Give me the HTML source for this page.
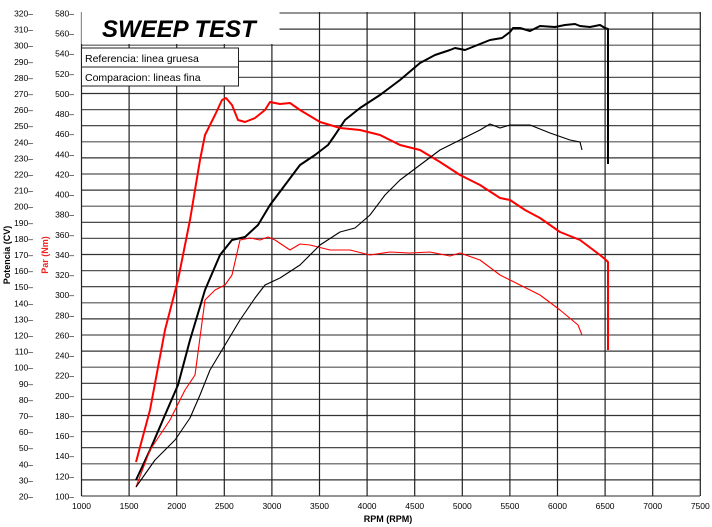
<!DOCTYPE html>
<html><head><meta charset="utf-8"><style>
html,body{margin:0;padding:0;background:#fff;}
svg{display:block;font-family:"Liberation Sans",sans-serif;}
</style></head><body>
<svg width="712" height="527" viewBox="0 0 712 527" xmlns="http://www.w3.org/2000/svg">
<g id="grid" stroke="#222" stroke-width="1.2">
</g>
<script>
(function(){
var g=document.getElementById('grid'),ns='http://www.w3.org/2000/svg',s=document.querySelector('svg');
function el(t,a,p){var e=document.createElementNS(ns,t);for(var k in a)e.setAttribute(k,a[k]);(p||g).appendChild(e);return e;}
// horizontal lines CV 20..320
for(var i=0;i<=30;i++){var y=496-i*16.1;el('line',{x1:81.5,x2:700,y1:y,y2:y,stroke:(i%2?'#333':'#555')});
 var t=el('text',{x:33,y:y+3.5,'font-size':'8.5','text-anchor':'end',fill:'#000',stroke:'none'},s);t.textContent=(20+i*10)+'\u2013';}
for(var j=0;j<=24;j++){var y2=496-j*20.13;var t2=el('text',{x:74,y:y2+3.5,'font-size':'8.5','text-anchor':'end',fill:'#000',stroke:'none'},s);t2.textContent=(100+j*20)+'\u2013';}
for(var k=0;k<=13;k++){var x=81.5+k*47.6;el('line',{x1:x,x2:x,y1:12,y2:496});
 var t3=el('text',{x:x,y:509,'font-size':'8.5','text-anchor':'middle',fill:'#000',stroke:'none'},s);t3.textContent=(1000+k*500);}
})();
</script>
<rect x="81.5" y="12" width="198" height="32" fill="#fff"/>
<text x="102" y="37" font-size="24" font-weight="bold" font-style="italic" fill="#000">SWEEP TEST</text>
<rect x="81.5" y="48" width="157" height="38" fill="#fff" stroke="#222" stroke-width="1"/>
<line x1="81.5" y1="67" x2="238.5" y2="67" stroke="#222"/>
<text x="85" y="62" font-size="10.5">Referencia: linea gruesa</text>
<text x="85" y="81" font-size="10.5">Comparacion: lineas fina</text>
<text transform="translate(10,255) rotate(-90)" font-size="9" font-weight="bold" text-anchor="middle">Potencia (CV)</text>
<text transform="translate(48,255) rotate(-90)" font-size="9" font-weight="bold" fill="#e22" text-anchor="middle">Par (Nm)</text>
<text x="388" y="522" font-size="9" font-weight="bold" text-anchor="middle">RPM (RPM)</text>
<g fill="none" stroke-linejoin="round">
<polyline stroke="#000" stroke-width="2" points="136,480 150,450 165,415 178,385 190,340 205,290 220,255 232,240 245,237 258,225 270,205 285,185 300,165 315,155 328,145 335,135 345,120 360,108 380,95 400,80 420,63 435,55 450,50 455,48 465,50 475,46 490,40 502,38 510,32 513,28 520,28 530,31 540,26 555,27 565,25 575,24 580,26 590,27 600,25 605,28 608,29 608,164"/>
<polyline stroke="#f00" stroke-width="2" points="136,462 150,410 165,330 178,280 190,220 200,160 205,135 215,115 222,100 226,98 232,105 238,120 245,122 255,118 265,110 270,102 280,104 290,103 300,110 320,122 340,128 360,130 380,135 400,145 420,150 440,162 460,175 480,185 500,198 510,200 525,210 540,218 560,232 580,240 600,255 606,260 608,262 608,350"/>
<polyline stroke="#f00" stroke-width="1.1" points="136,487 150,450 170,420 185,390 195,375 205,300 215,290 225,285 232,275 240,240 250,238 260,240 268,237 275,240 290,250 300,244 310,245 330,250 350,250 370,255 390,252 410,253 430,252 450,256 460,253 480,260 500,275 520,285 540,295 560,310 578,325 582,335"/>
<polyline stroke="#000" stroke-width="1.1" points="136,487 155,460 175,440 190,418 200,395 210,370 225,345 240,320 255,298 265,285 280,278 300,265 320,245 340,232 355,228 370,215 385,195 400,180 420,165 440,150 460,140 480,130 490,124 500,128 510,125 530,125 550,133 570,140 580,142 582,150"/>
</g>
</svg>
</body></html>
